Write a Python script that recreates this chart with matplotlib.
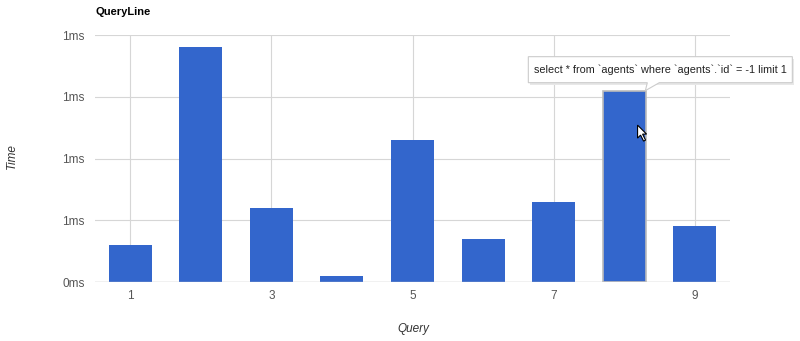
import matplotlib.pyplot as plt
from matplotlib.patches import Polygon

# ----- Data -----
queries = [1, 2, 3, 4, 5, 6, 7, 8, 9]
times_ms = [0.18, 1.14, 0.36, 0.03, 0.69, 0.21, 0.39, 0.93, 0.27]
y_ticks = [0, 0.3, 0.6, 0.9, 1.2]
y_tick_labels = ['0ms', '1ms', '1ms', '1ms', '1ms']
x_ticks = [1, 3, 5, 7, 9]
hover_index = 7
hover_text = "select * from `agents` where `agents`.`id` = -1 limit 1"

plt.rcParams['font.family'] = ['Liberation Sans', 'DejaVu Sans']

fig = plt.figure(figsize=(8, 3.41), dpi=100)
ax = fig.add_axes([0.11875, 0.173, 0.79375, 0.724])

bar_color = '#3366cc'
bars = ax.bar(queries, times_ms, width=0.61, color=bar_color, zorder=3)
# hovered bar gets a grey outline
bars[hover_index].set_edgecolor('#bbbbbb')
bars[hover_index].set_linewidth(1.2)

# ----- Axes styling -----
ax.set_xlim(0.5, 9.5)
ax.set_ylim(0, 1.2)
ax.set_yticks(y_ticks)
ax.set_yticklabels(y_tick_labels)
ax.set_xticks(x_ticks)
ax.set_xticklabels([str(x) for x in x_ticks])
ax.tick_params(length=0, labelsize=8.5, labelcolor='#555555')
ax.tick_params(axis='y', pad=7.5)
ax.tick_params(axis='x', pad=6)
for s in ax.spines.values():
    s.set_visible(False)
ax.grid(True, color='#d6d6d6', linewidth=0.8, zorder=0)
ax.axhline(0, color='#c4c4c4', linewidth=1, zorder=4)

# axis titles placed like the Google chart
fig.text(413 / 800, 1 - 329 / 341, 'Query', style='italic', fontsize=8.5,
         color='#333333', ha='center', va='center')
fig.text(12 / 800, 1 - 156 / 341, 'Time', style='italic', fontsize=8.5,
         color='#333333', ha='center', va='center', rotation=90)
fig.text(96 / 800, 1 - 12 / 341, 'QueryLine', fontsize=8, fontweight='bold',
         color='#000000', ha='left', va='center')

# ----- Tooltip -----
bx = queries[hover_index]
by = times_ms[hover_index]
tip = ax.transData.transform((bx + 0.3, by))
px_to_fig = fig.transFigure.inverted()
box_l, box_r, box_b, box_t = tip[0] - 117, tip[0] + 147, tip[1] + 8, tip[1] + 34
fig.patches.append(Polygon([px_to_fig.transform(p) for p in
                            [(box_l + 2, box_b - 2), (box_r + 2, box_b - 2),
                             (box_r + 2, box_t - 2), (box_l + 2, box_t - 2)]],
                           closed=True, facecolor='#e8e8e8', edgecolor='none',
                           transform=fig.transFigure, zorder=9))
outline = [(box_l, box_b), (tip[0] + 2, box_b), (tip[0], tip[1]), (tip[0] + 14, box_b),
           (box_r, box_b), (box_r, box_t), (box_l, box_t)]
fig.patches.append(Polygon([px_to_fig.transform(p) for p in outline], closed=True,
                           facecolor='white', edgecolor='#cccccc', linewidth=0.8,
                           transform=fig.transFigure, zorder=10))
cx, cy = px_to_fig.transform(((box_l + box_r) / 2, (box_b + box_t) / 2))
fig.text(cx, cy, hover_text, fontsize=7.8, color='#222222', ha='center', va='center',
         zorder=11)

# mouse cursor over hovered bar
cur = ax.transData.transform((bx + 0.19, by * 0.82))
arrow = [(0, 0), (0, -13), (3, -10), (6, -16), (8, -15), (5, -9), (9, -9)]
fig.patches.append(Polygon([px_to_fig.transform((cur[0] + a, cur[1] + b)) for a, b in arrow],
                           closed=True, facecolor='white', edgecolor='black', linewidth=0.8,
                           transform=fig.transFigure, zorder=12))

fig.savefig('out.png', dpi=100, facecolor='white')
